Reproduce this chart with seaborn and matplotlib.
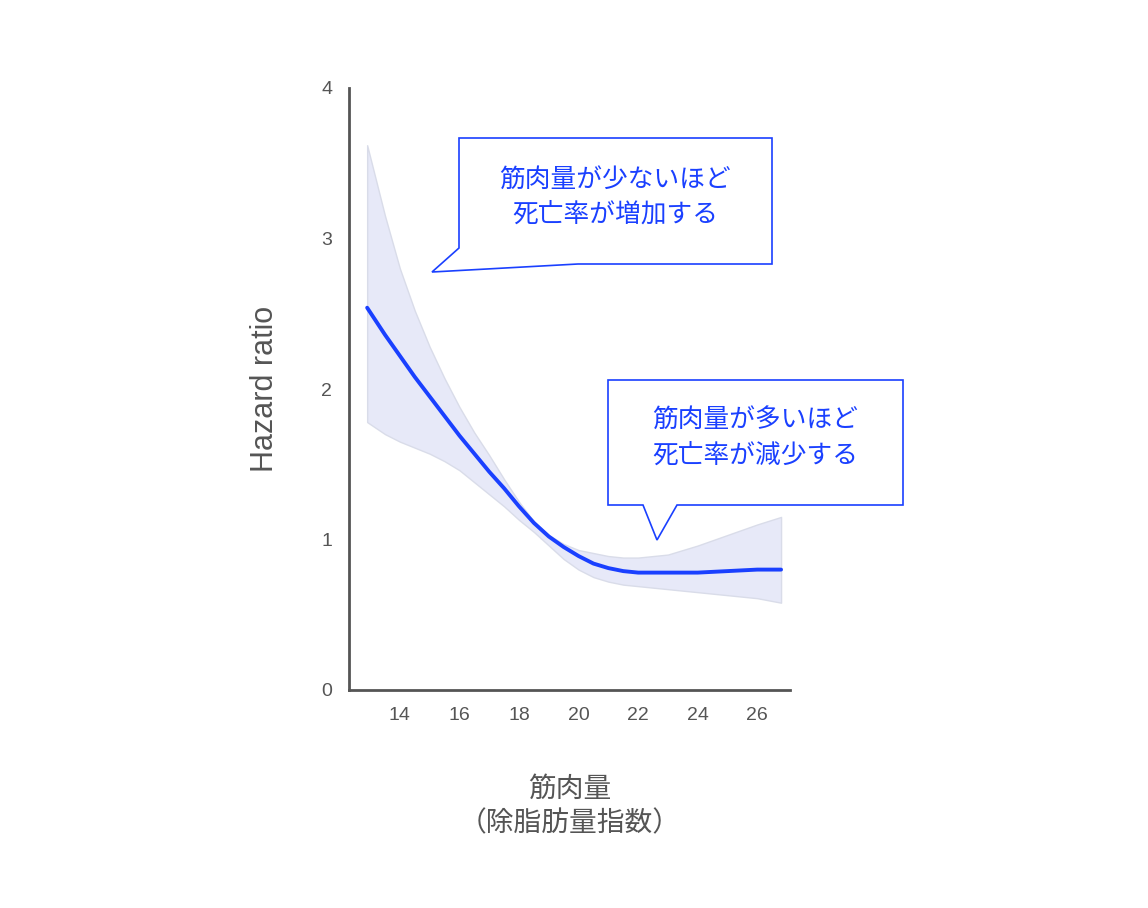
import matplotlib
matplotlib.use("Agg")
import matplotlib.pyplot as plt
import seaborn as sns
import pandas as pd
from matplotlib.patches import Polygon

x = [12.9, 13.5, 14, 14.5, 15, 15.5, 16, 16.5, 17, 17.5, 18, 18.5, 19, 19.5, 20, 20.5, 21, 21.5, 22, 23, 24, 25, 26, 26.8]
hr = [2.54, 2.36, 2.22, 2.08, 1.95, 1.82, 1.69, 1.57, 1.45, 1.34, 1.22, 1.11, 1.02, 0.95, 0.89, 0.84, 0.81, 0.79, 0.78, 0.78, 0.78, 0.79, 0.80, 0.80]
upper = [3.62, 3.15, 2.80, 2.52, 2.28, 2.07, 1.88, 1.71, 1.56, 1.40, 1.25, 1.12, 1.03, 0.97, 0.93, 0.91, 0.89, 0.88, 0.88, 0.90, 0.96, 1.03, 1.10, 1.15]
lower = [1.78, 1.70, 1.65, 1.61, 1.57, 1.52, 1.46, 1.38, 1.30, 1.22, 1.13, 1.05, 0.96, 0.87, 0.80, 0.75, 0.72, 0.70, 0.69, 0.67, 0.65, 0.63, 0.61, 0.58]
xticks = [14, 16, 18, 20, 22, 24, 26]
yticks = [0, 1, 2, 3, 4]
note1 = "筋肉量が少ないほど\n死亡率が増加する"
note2 = "筋肉量が多いほど\n死亡率が減少する"

sns.set_theme(style="white")
plt.rcParams['font.family'] = ['Liberation Sans', 'Noto Sans CJK JP', 'DejaVu Sans']

W, H = 1148, 908
fig = plt.figure(figsize=(W/100, H/100), dpi=100)
ax = fig.add_axes([349/W, 1-690/H, (790-349)/W, (690-88)/H])
df = pd.DataFrame({"x": x, "hr": hr})
ax.fill_between(x, lower, upper, color="#e6e8f8", alpha=0.95, edgecolor="#d8dbe8", lw=1)
sns.lineplot(data=df, x="x", y="hr", ax=ax, color="#1a40ff", lw=2.8)
ax.set_xlim(12.29, 27.1)
ax.set_ylim(0, 4)
ax.set_xticks(xticks)
ax.set_yticks(yticks)
ax.tick_params(labelsize=14, colors="#555555", length=0, pad=12)
for s in ["top", "right"]:
    ax.spines[s].set_visible(False)
for s in ["left", "bottom"]:
    ax.spines[s].set_color("#555555")
    ax.spines[s].set_linewidth(2)
ax.set_ylabel("Hazard ratio", fontsize=22, color="#555555", labelpad=30)
ax.set_xlabel("筋肉量\n（除脂肪量指数）", fontsize=20, color="#555555", labelpad=38, linespacing=1.4)

def fp(pts):
    return [(px/W, 1-py/H) for px, py in pts]

blue = "#1a40ff"
p1 = Polygon(fp([(459,138),(772,138),(772,264),(578,264),(432,272),(459,248)]), closed=True,
             transform=fig.transFigure, facecolor="white", edgecolor=blue, lw=1.2)
p2 = Polygon(fp([(608,380),(903,380),(903,505),(677,505),(657,540),(643,505),(608,505)]), closed=True,
             transform=fig.transFigure, facecolor="white", edgecolor=blue, lw=1.2)
fig.add_artist(p1); fig.add_artist(p2)
fig.text(615/W, 1-197/H, note1, ha="center", va="center", fontsize=18.5, color=blue, linespacing=1.55)
fig.text(755/W, 1-438/H, note2, ha="center", va="center", fontsize=18.5, color=blue, linespacing=1.55)
fig.savefig("out.png", dpi=100)
